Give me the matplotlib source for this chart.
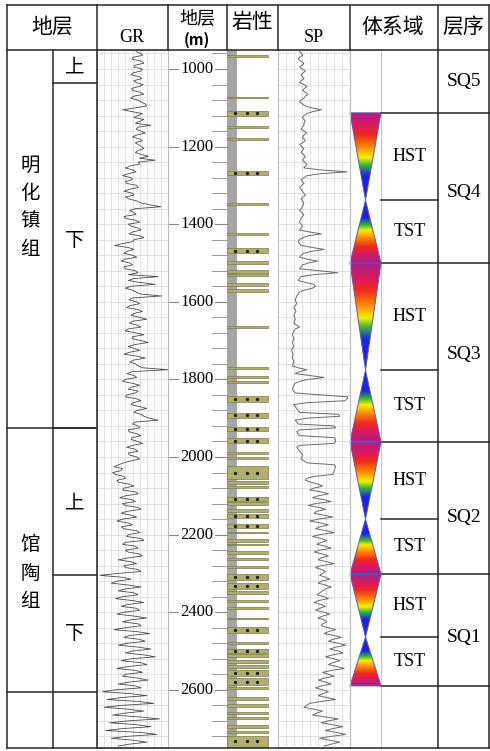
import numpy as np
import matplotlib.pyplot as plt
from matplotlib.patches import Rectangle, Polygon
from matplotlib.colors import LinearSegmentedColormap

W, H = 490, 751
CJK = ["Noto Sans CJK SC", "DejaVu Sans"]
SERIF = "Liberation Serif"

# ---- data ----
depth_log = np.arange(955, 2750, 5)

gr = [55, 62, 64, 50, 50, 63, 66, 54, 52, 64, 62, 51, 48, 60, 63, 52, 55, 65, 60, 49,
      50, 61, 66, 52, 47, 58, 62, 68, 70, 55, 36, 50, 64, 58, 52, 66, 60, 54, 76, 58,
      55, 62, 68, 56, 50, 60, 64, 54, 58, 63, 66, 58, 54, 62, 72, 60, 82, 58, 60, 46,
      40, 50, 55, 44, 36, 48, 50, 40, 42, 56, 58, 46, 38, 50, 52, 40, 45, 56, 62, 74,
      90, 54, 46, 52, 55, 38, 40, 55, 60, 44, 48, 58, 62, 50, 45, 60, 66, 52, 50, 36,
      25, 44, 52, 42, 38, 50, 56, 40, 34, 46, 50, 38, 40, 54, 58, 44, 86, 52, 44, 60,
      82, 48, 40, 50, 55, 62, 91, 50, 45, 56, 60, 46, 42, 58, 64, 52, 48, 60, 70, 50,
      46, 56, 62, 44, 40, 54, 66, 50, 50, 62, 72, 54, 44, 52, 60, 46, 38, 56, 68, 52,
      46, 54, 58, 64, 100, 50, 42, 52, 56, 40, 36, 50, 60, 48, 44, 58, 54, 42, 40, 56,
      62, 50, 48, 60, 70, 56, 52, 62, 66, 74, 86, 54, 50, 58, 60, 44, 45, 56, 62, 50,
      48, 58, 64, 50, 42, 54, 58, 44, 46, 56, 60, 48, 38, 30, 24, 36, 34, 22, 26, 38,
      40, 28, 30, 46, 52, 38, 36, 54, 58, 40, 32, 50, 54, 36, 40, 58, 62, 42, 34, 48,
      56, 36, 28, 44, 50, 34, 38, 56, 60, 44, 42, 62, 66, 40, 36, 54, 58, 40, 44, 60,
      64, 44, 30, 48, 56, 38, 40, 58, 62, 30, 4, 36, 48, 28, 20, 44, 62, 40, 30, 52,
      58, 36, 26, 50, 66, 44, 34, 56, 60, 38, 28, 52, 70, 46, 36, 58, 62, 40, 24, 56,
      74, 46, 38, 60, 68, 42, 30, 58, 76, 50, 40, 66, 82, 48, 34, 62, 70, 44, 28, 54,
      64, 40, 36, 58, 72, 46, 30, 54, 62, 26, 8, 48, 70, 34, 14, 58, 80, 36, 10, 44,
      66, 40, 22, 60, 88, 44, 18, 56, 76, 36, 12, 62, 84, 42, 20, 52, 70, 46, 30]

sp = [30, 33, 34, 30, 28, 32, 36, 33, 30, 34, 38, 35, 32, 34, 36, 32, 30, 36, 40, 37,
      34, 38, 42, 38, 36, 32, 30, 34, 38, 46, 60, 48, 40, 36, 34, 36, 38, 36, 36, 34,
      32, 36, 40, 36, 34, 36, 38, 34, 30, 33, 36, 34, 32, 35, 38, 36, 34, 37, 40, 38,
      36, 60, 96, 58, 40, 36, 32, 34, 36, 33, 30, 32, 34, 36, 38, 35, 32, 34, 36, 35,
      34, 32, 30, 33, 36, 34, 32, 31, 30, 32, 34, 32, 30, 44, 60, 42, 34, 30, 28, 30,
      32, 48, 64, 46, 36, 32, 30, 40, 55, 42, 34, 32, 30, 58, 83, 50, 32, 30, 28, 38,
      50, 52, 48, 36, 30, 28, 26, 25, 24, 25, 26, 24, 22, 24, 25, 23, 22, 23, 24, 23,
      22, 26, 30, 24, 22, 21, 20, 21, 22, 21, 20, 21, 22, 20, 19, 20, 21, 20, 20, 21,
      22, 21, 20, 28, 40, 30, 24, 44, 64, 42, 30, 24, 22, 21, 20, 22, 24, 60, 97, 96,
      93, 40, 22, 24, 26, 28, 30, 84, 86, 40, 24, 26, 28, 78, 80, 30, 26, 28, 30, 78,
      80, 80, 78, 30, 26, 28, 30, 32, 34, 33, 32, 36, 40, 78, 80, 79, 78, 77, 76, 50,
      40, 38, 46, 56, 62, 50, 44, 60, 70, 56, 48, 64, 74, 52, 42, 58, 66, 54, 50, 64,
      76, 56, 44, 60, 70, 58, 52, 68, 78, 58, 48, 60, 68, 60, 54, 66, 74, 58, 50, 62,
      70, 60, 56, 68, 78, 60, 52, 60, 66, 62, 58, 66, 72, 60, 56, 66, 74, 66, 62, 58,
      54, 64, 70, 56, 50, 60, 66, 58, 52, 64, 72, 62, 56, 64, 68, 62, 60, 70, 80, 70,
      64, 78, 88, 76, 70, 84, 94, 80, 72, 84, 90, 76, 66, 78, 86, 76, 70, 82, 92, 74,
      62, 70, 78, 64, 56, 66, 74, 60, 52, 62, 70, 62, 56, 68, 80, 60, 44, 40, 36, 50,
      62, 54, 48, 66, 84, 70, 60, 76, 90, 76, 66, 82, 94, 74, 58, 72, 86, 74, 64]

sand_beds = [(963, 968), (1071, 1075), (1108, 1120), (1147, 1151), (1178, 1182),
             (1263, 1273), (1346, 1350), (1423, 1427), (1462, 1475), (1495, 1503),
             (1518, 1526), (1529, 1533), (1552, 1560), (1567, 1574), (1663, 1667),
             (1769, 1773), (1791, 1796), (1804, 1809), (1843, 1858), (1887, 1899),
             (1923, 1933), (1951, 1964), (1987, 1993), (2000, 2005), (2023, 2057),
             (2062, 2070), (2075, 2080), (2103, 2113), (2116, 2123), (2134, 2142),
             (2147, 2157), (2173, 2183), (2193, 2196), (2211, 2219), (2224, 2227),
             (2242, 2250), (2260, 2265), (2281, 2286), (2301, 2317), (2325, 2340),
             (2345, 2353), (2369, 2374), (2387, 2392), (2415, 2418), (2438, 2454),
             (2477, 2482), (2495, 2505), (2508, 2515), (2523, 2531), (2536, 2544),
             (2549, 2564), (2570, 2588), (2593, 2598), (2618, 2626), (2637, 2644),
             (2657, 2662), (2670, 2675), (2691, 2698), (2706, 2711), (2719, 2747)]

formations = ["明化镇组", "馆陶组"]
formation_bounds = [951, 1925, 2606]
formation_label_depth = [1356, 2299]
members = ["上", "下", "上", "下"]
member_bounds = [951, 1036, 1925, 2305, 2606]
member_label_depth = [995, 1441, 2118, 2454]

tracts = ["HST", "TST", "HST", "TST", "HST", "TST", "HST", "TST"]
tract_bounds = [1113, 1338, 1500, 1776, 1961, 2160, 2302, 2464, 2590]
sequences = ["SQ5", "SQ4", "SQ3", "SQ2", "SQ1"]
seq_bounds = [951, 1113, 1500, 1961, 2302, 2590]
seq_label_depth = [1031, 1317, 1737, 2155, 2464]

depth_top, depth_bot = 951, 2750


def rect(x0, y0, x1, y1):
    return [x0 / W, 1 - y1 / H, (x1 - x0) / W, (y1 - y0) / H]


plt.rcParams["hatch.color"] = "#d2d2d2"
fig = plt.figure(figsize=(W / 100, H / 100), dpi=100)

# body axes: x in pixels, y in depth
body = fig.add_axes(rect(0, 50, W, 748))
body.set_xlim(0, W)
body.set_ylim(depth_bot, depth_top)
body.axis("off")


def track(x0, x1, ncols):
    ax = fig.add_axes(rect(x0, 50, x1, 748), sharey=body)
    ax.set_xlim(0, 100)
    ax.set_ylim(depth_bot, depth_top)
    for d in np.arange(960, depth_bot, 40):
        ax.axhline(d, color="#dcdcdc", lw=0.6, zorder=0)
    for v in np.linspace(0, 100, ncols + 1)[1:-1]:
        ax.axvline(v, color="#dcdcdc", lw=0.6, zorder=0)
    ax.set_xticks([])
    ax.set_yticks([])
    for s in ax.spines.values():
        s.set_color("#bdbdbd")
        s.set_linewidth(0.8)
    ax.patch.set_alpha(0)
    return ax


ax_gr = track(97, 168, 10)
ax_gr.plot(gr, depth_log, color="#4a4a4a", lw=0.6)
ax_sp = track(278, 350, 9)
ax_sp.plot(sp, depth_log, color="#6a6a6a", lw=0.7)

# depth scale
for d in np.arange(960, depth_bot, 40):
    if d % 200 == 0:
        body.plot([169, 178], [d, d], color="#888888", lw=0.8)
        body.plot([215, 227], [d, d], color="#888888", lw=0.8)
        body.text(197, d, str(d), ha="center", va="center", fontsize=12, family=SERIF)
    else:
        body.plot([212, 227], [d, d], color="#999999", lw=0.7)

# lithology column
body.add_patch(Rectangle((227, depth_top), 10, depth_bot - depth_top, facecolor="#a6a6a6",
                         edgecolor="none", hatch="--", zorder=1))
for top, bot in sand_beds:
    body.add_patch(Rectangle((227, top), 41, bot - top, facecolor="#b1ae73",
                             edgecolor="#7c7948", lw=0.5, zorder=2))
    if bot - top >= 9:
        body.scatter([235, 247, 257], [(top + bot) / 2] * 3, s=2, color="#222222", zorder=3)

# systems tract triangles
cmap = LinearSegmentedColormap.from_list(
    "st", [(0.0, "#a4208f"), (0.16, "#e01a5a"), (0.26, "#f02a1c"), (0.4, "#ff8a00"),
           (0.52, "#f4f000"), (0.6, "#3cb832"), (0.72, "#1a22e6"), (1.0, "#2a2ad0")])
grad = np.linspace(0, 1, 256).reshape(-1, 1)
body.add_patch(Rectangle((350, depth_top), 31, depth_bot - depth_top, facecolor="none",
                         edgecolor="#c4c4c4", lw=0.8, zorder=1))
for i, name in enumerate(tracts):
    top, bot = tract_bounds[i], tract_bounds[i + 1]
    if name == "HST":
        pts = [(350, top), (381, top), (365.5, bot)]
        img = grad
    else:
        pts = [(365.5, top), (381, bot), (350, bot)]
        img = grad[::-1]
    tri = Polygon(pts, closed=True, facecolor="none", edgecolor="#5a5aa0", lw=0.7, zorder=4)
    body.add_patch(tri)
    im = body.imshow(img, cmap=cmap, extent=(350, 381, bot, top), origin="upper",
                     aspect="auto", zorder=3)
    im.set_clip_path(tri)
    body.text(409.5, (top + bot) / 2, name, ha="center", va="center", fontsize=13, family=SERIF)

lc = "#262626"
lw = 1.1
for d in tract_bounds:
    x1 = 490 if d in seq_bounds else 438
    body.plot([381, x1], [d, d], color=lc, lw=lw)
for name, d in zip(sequences, seq_label_depth):
    body.text(464, d, name, ha="center", va="center", fontsize=14, family=SERIF)

# stratigraphy columns
for d in formation_bounds[1:]:
    body.plot([7, 97], [d, d], color=lc, lw=lw)
for d in member_bounds[1:-1]:
    body.plot([53, 97], [d, d], color=lc, lw=lw)
for name, d in zip(formations, formation_label_depth):
    body.text(30, d, "\n".join(name), ha="center", va="center", fontsize=14, family=CJK,
              linespacing=1.45)
for name, d in zip(members, member_label_depth):
    body.text(75, d, name, ha="center", va="center", fontsize=14, family=CJK)

# frame + header in pixel coordinates
frame = fig.add_axes([0, 0, 1, 1])
frame.set_xlim(0, W)
frame.set_ylim(H, 0)
frame.axis("off")
frame.patch.set_alpha(0)
for y in (5, 50, 748):
    frame.plot([7, 489], [y, y], color=lc, lw=lw)
for x in (7, 97, 438, 489):
    frame.plot([x, x], [5, 748], color=lc, lw=lw)
frame.plot([53, 53], [50, 748], color=lc, lw=lw)
for x in (168, 227, 278, 350):
    frame.plot([x, x], [5, 50], color=lc, lw=lw)

frame.text(52, 27, "地层", ha="center", va="center", fontsize=15, family=CJK)
frame.text(132, 37, "GR", ha="center", va="center", fontsize=13, family=SERIF)
frame.text(197, 19, "地层", ha="center", va="center", fontsize=13, family=CJK)
frame.text(197, 40, "(m)", ha="center", va="center", fontsize=11, family=CJK, weight="bold")
frame.text(252, 22, "岩性", ha="center", va="center", fontsize=15, family=CJK)
frame.text(314, 37, "SP", ha="center", va="center", fontsize=13, family=SERIF)
frame.text(393, 27, "体系域", ha="center", va="center", fontsize=15, family=CJK)
frame.text(463, 27, "层序", ha="center", va="center", fontsize=15, family=CJK)

fig.savefig("out.png", dpi=100, facecolor="white")
